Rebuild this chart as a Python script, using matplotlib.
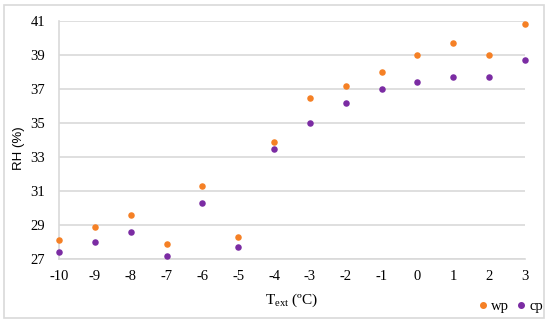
import matplotlib
matplotlib.use("Agg")
import matplotlib.pyplot as plt
from matplotlib.patches import Rectangle
from matplotlib.lines import Line2D

plt.rcParams["axes.unicode_minus"] = False

t_ext = [-10, -9, -8, -7, -6, -5, -4, -3, -2, -1, 0, 1, 2, 3]
wp = [28.1, 28.9, 29.6, 27.9, 31.3, 28.3, 33.9, 36.5, 37.2, 38.0, 39.0, 39.7, 39.0, 40.8]
cp = [27.4, 28.0, 28.6, 27.2, 30.3, 27.7, 33.5, 35.0, 36.2, 37.0, 37.4, 37.7, 37.7, 38.7]
y_ticks = [27, 29, 31, 33, 35, 37, 39, 41]

c_wp = "#F58025"
c_cp = "#7B2CA3"
grid_c = "#D9D9D9"

W, H = 550, 324
fig = plt.figure(figsize=(W / 100, H / 100), dpi=100)
fig.patches.append(Rectangle((4 / W, 1 - 318 / H), 540 / W, 313 / H, transform=fig.transFigure,
                             fill=False, edgecolor="#D9D9D9", linewidth=1.2))

ax = fig.add_axes([59 / W, 1 - 259 / H, 466 / W, 238 / H])
ax.set_xlim(-10, 3)
ax.set_ylim(27, 41)
ax.set_yticks(y_ticks)
ax.set_xticks(t_ext)
ax.yaxis.grid(True, color=grid_c, linewidth=1.2)
ax.set_axisbelow(True)
for s in ["top", "right"]:
    ax.spines[s].set_visible(False)
ax.spines["left"].set_color(grid_c)
ax.spines["left"].set_linewidth(1.2)
ax.spines["bottom"].set_color(grid_c)
ax.spines["bottom"].set_linewidth(1.2)
ax.tick_params(axis="x", length=0, pad=8)
ax.tick_params(axis="y", length=0, pad=10)
for lab in ax.get_xticklabels() + ax.get_yticklabels():
    lab.set_family("Liberation Serif")
    lab.set_fontsize(10.5)

ax.scatter(t_ext, wp, s=22, color=c_wp, clip_on=False, zorder=3, linewidths=0)
ax.scatter(t_ext, cp, s=22, color=c_cp, clip_on=False, zorder=3, linewidths=0)

ax.set_xlabel(r"T$_{\mathregular{ext}}$ (ºC)", family="Liberation Serif", fontsize=11, labelpad=6)
fig.text(19 / W, 1 - 148 / H, "RH (%)", family="Liberation Sans", fontsize=9.5,
         rotation=90, ha="center", va="center")

handles = [Line2D([], [], marker="o", linestyle="", color=c_wp, markersize=4, label="wp"),
           Line2D([], [], marker="o", linestyle="", color=c_cp, markersize=4, label="cp")]
fig.legend(handles=handles, loc="center right", bbox_to_anchor=(543 / W, 1 - 306 / H), ncol=2,
           frameon=False, handletextpad=0.3, columnspacing=0.6, handlelength=0.5,
           prop={"family": "Liberation Serif", "size": 10.5}, borderaxespad=0, borderpad=0)

fig.savefig("out.png", dpi=100)
